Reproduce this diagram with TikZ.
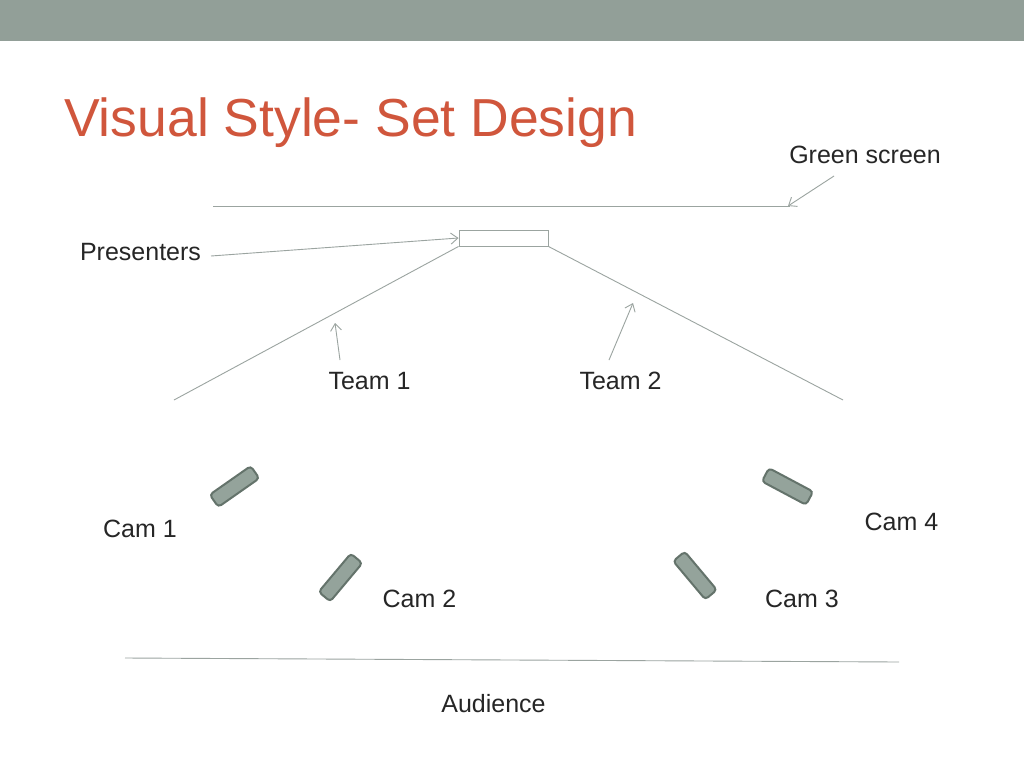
\documentclass[tikz,border=0pt]{standalone}
\usepackage{fontspec}
\setmainfont{Liberation Sans}
\usetikzlibrary{arrows.meta}
\definecolor{barcol}{RGB}{146,159,152}
\definecolor{titlecol}{RGB}{208,86,60}
\definecolor{linecol}{RGB}{155,164,160}
\definecolor{camfill}{RGB}{148,163,155}
\definecolor{camdraw}{RGB}{100,115,107}
\definecolor{txtcol}{RGB}{38,38,38}
\begin{document}
\begin{tikzpicture}[x=1pt,y=-1pt,
  lbl/.style={text=txtcol,font=\fontsize{25}{30}\selectfont,inner sep=0pt},
  setline/.style={draw=linecol,line width=0.9pt},
  ptr/.style={draw=linecol,line width=0.9pt,-{Straight Barb[length=7pt,width=11pt]}},
  cam/.style={draw=camdraw,fill=camfill,line width=2pt,rounded corners=3.5pt,
    minimum width=50pt,minimum height=15pt,inner sep=0pt}]
\useasboundingbox (0,0) rectangle (1024,768);
\fill[white] (0,0) rectangle (1024,768);
\fill[barcol] (0,0) rectangle (1024,41);
\node[anchor=base west,text=titlecol,inner sep=0pt,font=\fontsize{53.5}{60}\selectfont] (title) at (64,136) {Visual Style- Set Design};
% green screen
\coordinate (gsL) at (213,206);
\coordinate (gsR) at (790,206);
\draw[setline] (gsL) -- (gsR);
\node[lbl] (gstxt) at (865,155) {Green screen};
\coordinate (gsA) at (834,176);
\draw[ptr] (gsA) -- (788,206);
% presenters
\node[draw=linecol,line width=0.9pt,minimum width=89pt,minimum height=16pt,inner sep=0pt] (pres) at (503.5,238) {};
\node[lbl] (prestxt) at (140.5,252) {Presenters};
\coordinate (presA) at (211,256);
\draw[ptr] (presA) -- (pres.west);
% team lines
\coordinate (t1end) at (174,400);
\coordinate (t2end) at (843,400);
\draw[setline] (pres.south west) -- (t1end);
\draw[setline] (pres.south east) -- (t2end);
\node[lbl] (team1) at (369.5,381) {Team 1};
\node[lbl] (team2) at (620.5,381) {Team 2};
\coordinate (t1a) at (340,360);
\coordinate (t1b) at (335,323);
\coordinate (t2a) at (609,360);
\coordinate (t2b) at (633,303);
\draw[ptr] (t1a) -- (t1b);
\draw[ptr] (t2a) -- (t2b);
% cameras
\node[cam,rotate=35] (cam1) at (234.5,486.5) {};
\node[cam,rotate=50] (cam2) at (340.5,577.5) {};
\node[cam,rotate=-50] (cam3) at (695,575.5) {};
\node[cam,rotate=-28] (cam4) at (787.5,486.5) {};
\node[lbl] (cam1t) at (140,529) {Cam 1};
\node[lbl] (cam2t) at (419.5,599) {Cam 2};
\node[lbl] (cam3t) at (802,599) {Cam 3};
\node[lbl] (cam4t) at (901.5,522) {Cam 4};
% audience
\coordinate (audL) at (125,658);
\coordinate (audR) at (899,662);
\draw[setline] (audL) -- (audR);
\node[lbl] (aud) at (493.5,704) {Audience};
\end{tikzpicture}
\end{document}
